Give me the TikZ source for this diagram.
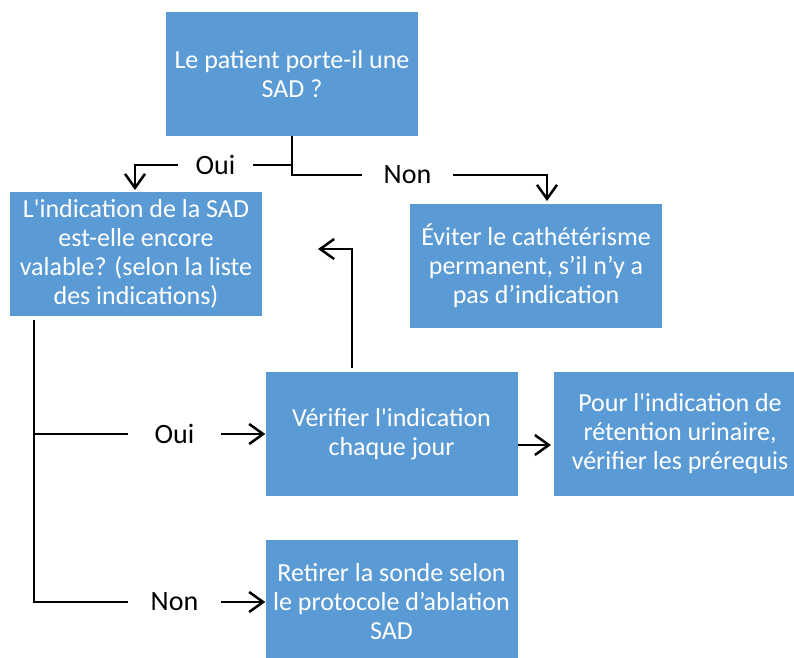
\documentclass[tikz,border=0pt]{standalone}
\usepackage{fontspec}
\setmainfont{Carlito}
\usetikzlibrary{arrows.meta}
\definecolor{boxblue}{HTML}{5B9BD5}
\begin{document}
\begin{tikzpicture}[x=1pt,y=-1pt,
  box/.style={fill=boxblue, text=white, align=center, minimum width=252pt,
    minimum height=124pt, inner sep=0pt, font=\fontsize{26}{29}\selectfont},
  lbl/.style={font=\fontsize{28}{32}\selectfont, inner sep=0pt},
  conn/.style={line width=2.5pt},
  arr/.style={conn, -{Straight Barb[length=14pt,width=20pt]}}]
\useasboundingbox (0,0) rectangle (794,657);
\clip (0,0) rectangle (794,657);
% boxes
\node[box] (q1) at (292,74) {Le patient porte-il une\\SAD ?};
\node[box] (q2) at (136,254) {L\textquotesingle indication de la SAD\\est-elle encore\\valable? (selon la liste\\des indications)};
\node[box] (avoid) at (536,266) {Éviter le cathétérisme\\permanent, s’il n’y a\\pas d’indication};
\node[box] (check) at (391.5,434) {Vérifier l\textquotesingle indication\\chaque jour};
\node[box] (pre) at (680,434) {Pour l\textquotesingle indication de\\rétention urinaire,\\vérifier les prérequis};
\node[box] (remove) at (391.5,602) {Retirer la sonde selon\\le protocole d’ablation\\SAD};
% labels
\begin{scope}
\clip (150,140) rectangle (260,175);
\node[lbl, minimum width=75pt] (ouiA) at (215.5,165) {Oui};
\end{scope}
\node[lbl, minimum width=91pt] (nonA) at (407.5,175) {Non};
\node[lbl, minimum width=93pt] (ouiB) at (174.5,434) {Oui};
\node[lbl, minimum width=93pt] (nonB) at (174.5,602) {Non};
% coordinates
\coordinate (q2in) at (135,190);
\coordinate (avin) at (547,201);
\coordinate (s2) at (34,320);
\coordinate (r0) at (352,368);
\coordinate (r1) at (318,249);
\coordinate (c0) at (518,445);
\coordinate (c1) at (551,445);
% connectors
\draw[conn] (q1.south) |- (ouiA.east);
\draw[arr] (ouiA.west) -| (q2in);
\draw[conn] (q1.south) |- (nonA.west);
\draw[arr] (nonA.east) -| (avin);
\draw[conn] (s2) |- (nonB.west);
\draw[conn] (s2 |- ouiB.west) -- (ouiB.west);
\draw[arr] (ouiB.east) -- (check.west |- ouiB.east);
\draw[arr] (nonB.east) -- (remove.west |- nonB.east);
\draw[arr] (r0) |- (r1);
\draw[arr] (c0) -- (c1);
\end{tikzpicture}
\end{document}
